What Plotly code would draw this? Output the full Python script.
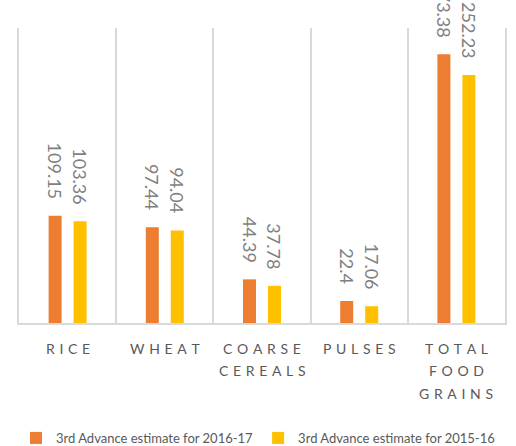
import plotly.graph_objects as go

# Food grain production (million tonnes)
categories = ["RICE", "WHEAT", "COARSE CEREALS", "PULSES", "TOTAL FOOD GRAINS"]
caption_lines = [["RICE"], ["WHEAT"], ["COARSE", "CEREALS"], ["PULSES"], ["TOTAL", "FOOD", "GRAINS"]]
series_names = ["3rd Advance estimate for 2016-17", "3rd Advance estimate for 2015-16"]
est_2016_17 = [109.15, 97.44, 44.39, 22.4, 273.38]
est_2015_16 = [103.36, 94.04, 37.78, 17.06, 252.23]
colors = ["#ED7D31", "#FFC000"]

FONT = "Lato, 'Open Sans', sans-serif"


def spaced(word):
    # widen the letter spacing of the category captions
    return "\u2004".join(word)


fig = go.Figure()
for name, vals, col in zip(series_names, [est_2016_17, est_2015_16], colors):
    fig.add_trace(go.Bar(
        x=categories, y=vals, name=name,
        marker=dict(color=col, line=dict(width=0)),
    ))

# rotated value labels above each bar
shifts = [-12.5, 12.5]
for vals, dx in zip([est_2016_17, est_2015_16], shifts):
    for cat, v in zip(categories, vals):
        fig.add_annotation(
            x=cat, y=v, xref="x", yref="y", text=f"{v:g}",
            textangle=90, showarrow=False, xanchor="center", yanchor="bottom",
            xshift=dx, yshift=15,
            font=dict(family=FONT, size=18, color="#7F7F7F"),
        )

# category captions under the axis, one line at a time for wider line spacing
for cat, lines in zip(categories, caption_lines):
    for i, word in enumerate(lines):
        fig.add_annotation(
            x=cat, y=0, xref="x", yref="paper", text=spaced(word),
            showarrow=False, xanchor="center", yanchor="middle",
            yshift=-25 - 22.5 * i,
            font=dict(family=FONT, size=14, color="#595959"),
        )

fig.update_layout(
    width=516, height=446,
    margin=dict(l=19, r=11, t=28, b=123, autoexpand=False),
    paper_bgcolor="white", plot_bgcolor="white",
    barmode="group", bargap=0.486, bargroupgap=0.48,
    showlegend=True,
    legend=dict(
        orientation="h", xref="container", yref="container",
        x=0.5, xanchor="center", y=0.018, yanchor="middle",
        font=dict(family=FONT, size=13, color="#595959"),
        itemwidth=30, tracegroupgap=0,
    ),
    font=dict(family=FONT, color="#595959"),
)

fig.update_xaxes(
    type="category", tickson="boundaries",
    showgrid=True, gridcolor="#D9D9D9", gridwidth=1.5,
    showline=True, linecolor="#D9D9D9", linewidth=2,
    ticks="", showticklabels=False,
    range=[-0.5, 4.5],
)
fig.update_yaxes(
    range=[0, 300], showgrid=False, zeroline=False,
    showticklabels=False, ticks="",
    showline=True, mirror=True, linecolor="#D9D9D9", linewidth=1.5,
)

fig.write_html("out.html")
